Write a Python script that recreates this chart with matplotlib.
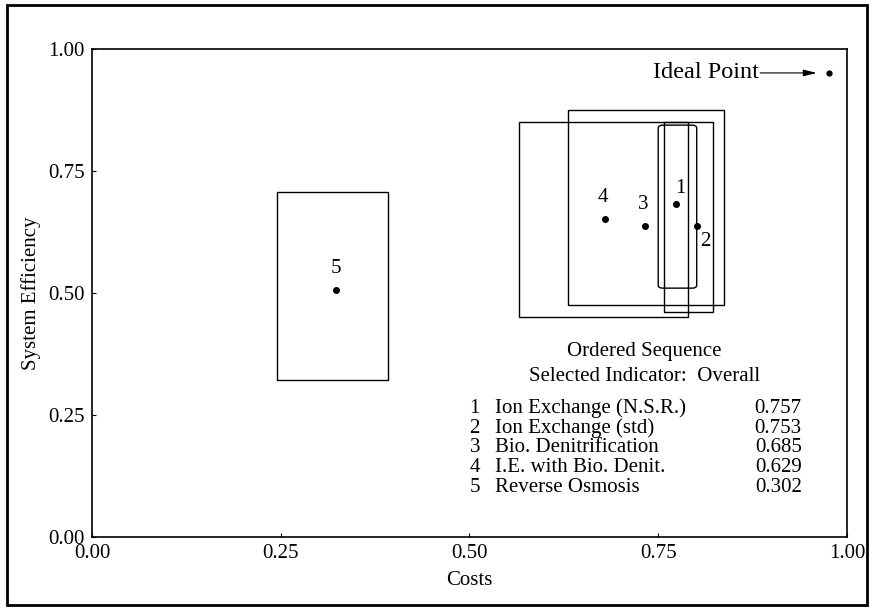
import matplotlib
matplotlib.use('Agg')
import matplotlib.pyplot as plt
from matplotlib.patches import Rectangle, FancyBboxPatch

plt.rcParams['font.family'] = ['Liberation Serif', 'DejaVu Serif']

# alternatives: number, name, score
nums   = ['1', '2', '3', '4', '5']
names  = ['Ion Exchange (N.S.R.)', 'Ion Exchange (std)', 'Bio. Denitrification',
          'I.E. with Bio. Denit.', 'Reverse Osmosis']
scores = ['0.757', '0.753', '0.685', '0.629', '0.302']

# point positions (costs, efficiency)
cost_pt = [0.774, 0.801, 0.732, 0.679, 0.323]
eff_pt  = [0.682, 0.638, 0.638, 0.651, 0.506]

# uncertainty boxes
cost_lo = [0.750, 0.758, 0.630, 0.565, 0.245]
cost_hi = [0.801, 0.822, 0.837, 0.789, 0.392]
eff_lo  = [0.510, 0.462, 0.475, 0.450, 0.322]
eff_hi  = [0.844, 0.851, 0.875, 0.851, 0.708]

# label offsets next to each point
lab_dx = [0.006, 0.011, -0.002, -0.002, 0.0]
lab_dy = [0.033, -0.032, 0.043, 0.045, 0.045]

ideal = (0.976, 0.951)

fig = plt.figure(figsize=(8.7, 6.09), dpi=100)
ax = fig.add_axes([0.1057, 0.1182, 0.8678, 0.8013])

for i in range(len(nums)):
    w = cost_hi[i] - cost_lo[i]
    h = eff_hi[i] - eff_lo[i]
    if i == 0:
        # the narrow box has slightly rounded corners
        ax.add_patch(FancyBboxPatch((cost_lo[i], eff_lo[i]), w, h,
                                    boxstyle='round,pad=0,rounding_size=0.006',
                                    fill=False, lw=1.0, ec='black'))
    else:
        ax.add_patch(Rectangle((cost_lo[i], eff_lo[i]), w, h,
                               fill=False, lw=1.0, ec='black'))
    ax.plot(cost_pt[i], eff_pt[i], 'o', color='black', ms=4)
    ax.text(cost_pt[i] + lab_dx[i], eff_pt[i] + lab_dy[i], nums[i],
            ha='center', va='center', fontsize=15)

# ideal point with arrow
ax.plot(ideal[0], ideal[1], 'o', color='black', ms=3.5)
ax.annotate('', xy=(ideal[0] - 0.016, ideal[1]), xytext=(ideal[0] - 0.091, ideal[1]),
            arrowprops=dict(arrowstyle='-|>,head_length=0.8,head_width=0.2',
                            lw=0.8, color='black', shrinkA=0, shrinkB=0))
ax.text(ideal[0] - 0.093, ideal[1], 'Ideal Point', ha='right', va='center', fontsize=17.5)

# ordered sequence table
ax.text(0.732, 0.380, 'Ordered Sequence', ha='center', va='center', fontsize=15)
ax.text(0.732, 0.328, 'Selected Indicator:  Overall', ha='center', va='center', fontsize=15)
row_y = [0.264, 0.223, 0.183, 0.143, 0.102]
for i in range(len(nums)):
    ax.text(0.507, row_y[i], nums[i], ha='center', va='center', fontsize=15)
    ax.text(0.534, row_y[i], names[i], ha='left', va='center', fontsize=15)
    ax.text(0.940, row_y[i], scores[i], ha='right', va='center', fontsize=15)

ax.set_xlim(0, 1)
ax.set_ylim(0, 1)
ticks = [0.0, 0.25, 0.5, 0.75, 1.0]
ax.set_xticks(ticks)
ax.set_yticks(ticks)
ax.set_xticklabels(['%.2f' % t for t in ticks])
ax.set_yticklabels(['%.2f' % t for t in ticks])
ax.tick_params(direction='in', length=3, labelsize=15, pad=5)
for s in ax.spines.values():
    s.set_linewidth(1.2)
ax.set_xlabel('Costs', fontsize=15, labelpad=6)
ax.set_ylabel('System Efficiency', fontsize=15, labelpad=5)

# outer frame around the whole figure
fig.patches.append(Rectangle((0.008, 0.006), 0.988, 0.986, transform=fig.transFigure,
                             fill=False, lw=2.0, ec='black'))

fig.savefig('out.png', dpi=100)
